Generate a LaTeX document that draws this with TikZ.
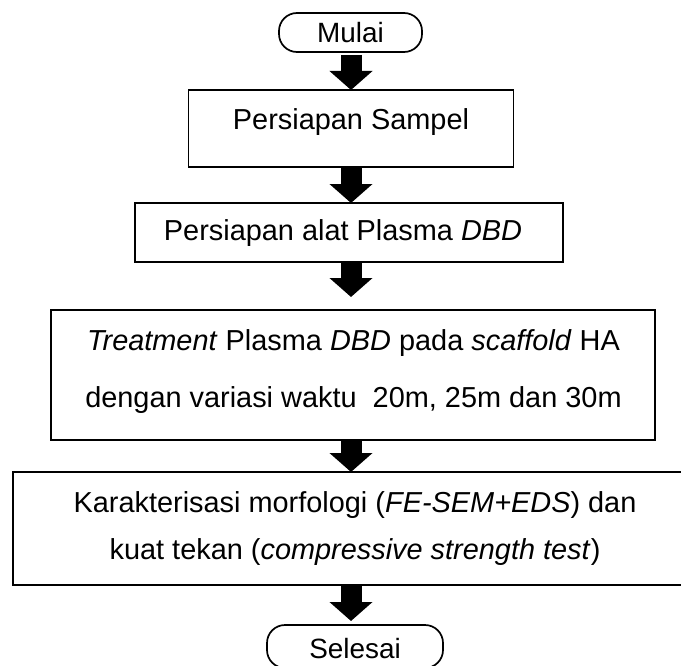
\documentclass[tikz,border=0pt]{standalone}
\usepackage{fontspec}
\setmainfont{Liberation Sans}
\usetikzlibrary{arrows.meta}
\begin{document}
\begin{tikzpicture}[x=1bp,y=-1bp,
  font=\fontsize{29}{35}\selectfont,
  every node/.style={inner sep=0pt, outer sep=0pt},
  stepbox/.style={draw, line width=1.7bp, rectangle, align=center},
  term/.style={draw, line width=1.7bp, rounded corners=18bp},
  flow/.style={line width=21bp, -{Triangle[width=42bp,length=19bp]}}]
\useasboundingbox (0,0) rectangle (681,666);
\clip (0,0) rectangle (681,666);
\coordinate (ax) at (351,0);

\node[term, minimum width=143bp, text height=30bp, text depth=9bp, font=\fontsize{28}{34}\selectfont] (mulai) at (350.5,32.5) {Mulai};
\node[stepbox, minimum width=325bp, text height=40bp, text depth=37bp] (s1) at (351,128.5) {Persiapan Sampel};
\node[stepbox, minimum width=428bp, text height=37bp, text depth=22bp] (s2) at (349,232.5) {Persiapan alat Plasma \textit{DBD}\hspace*{12bp}};
\node[stepbox, minimum width=604bp, minimum height=130bp] (s3) at (353,375) {};
\node[align=center] (t3) at (353.5,371.5)
  {\textit{Treatment} Plasma \textit{DBD} pada \textit{scaffold} HA\\[22bp]
   dengan variasi waktu\ \ 20m, 25m dan 30m};
\node[stepbox, minimum width=684bp, minimum height=113bp] (s4) at (355,528.5)
  {Karakterisasi morfologi (\textit{FE-SEM+EDS}) dan\\[12bp]
   kuat tekan (\textit{compressive strength test})};
\node[term, minimum width=176bp, text height=33bp, text depth=10bp, font=\fontsize{28}{34}\selectfont] (selesai) at (355,646.5) {Selesai};

\draw[flow, shorten <=3bp] (mulai.south -| ax) -- (s1.north -| ax);
\draw[flow] (s1.south -| ax) -- (s2.north -| ax);
\draw[flow, shorten >=13bp] (s2.south -| ax) -- (s3.north -| ax);
\draw[flow] (s3.south -| ax) -- (s4.north -| ax);
\draw[flow, shorten >=4bp] (s4.south -| ax) -- (selesai.north -| ax);
\end{tikzpicture}
\end{document}
